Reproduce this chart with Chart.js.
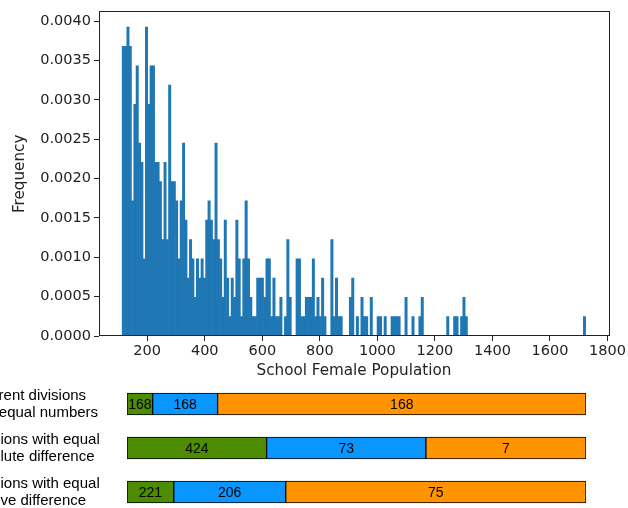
<!DOCTYPE html>
<html>
<head>
<meta charset="utf-8">
<script src="https://cdn.jsdelivr.net/npm/chart.js@4.4.1/dist/chart.umd.min.js"></script>
<style>
  html, body { margin: 0; padding: 0; background: #fff; }
  #wrap { position: relative; width: 628px; height: 508px; overflow: hidden; background: #fff; }
  #hist { position: absolute; left: 0; top: 0; }
  #divs { position: absolute; left: -32px; top: 382px; }
</style>
</head>
<body>
<div id="wrap">
  <canvas id="hist" width="628" height="382"></canvas>
  <canvas id="divs" width="660" height="132"></canvas>
</div>
<script>
// ---- Histogram of school female population (200 equal-width bins) ----
const POP_MIN = 113;
const POP_MAX = 1724;
const BIN_COUNTS = [
  15, 15, 16, 15, 7, 12, 14, 10, 9, 4,
  16, 12, 14, 14, 9, 9, 8, 5, 9, 5,
  13, 8, 8, 7, 4, 7, 10, 6, 3, 5,
  4, 2, 4, 3, 4, 3, 6, 7, 6, 5,
  10, 5, 4, 2, 6, 3, 1, 3, 2, 6,
  4, 1, 4, 7, 4, 2, 1, 1, 3, 3,
  3, 2, 4, 4, 1, 3, 1, 1, 2, 0,
  1, 5, 2, 0, 0, 4, 4, 1, 1, 2,
  2, 2, 4, 1, 2, 1, 3, 1, 0, 0,
  5, 1, 3, 1, 1, 0, 0, 0, 2, 3,
  0, 1, 0, 2, 1, 1, 0, 2, 0, 0,
  1, 1, 0, 1, 0, 0, 1, 1, 1, 1,
  0, 0, 2, 0, 0, 1, 0, 0, 1, 2,
  0, 0, 0, 0, 0, 0, 0, 0, 0, 0,
  1, 0, 0, 1, 1, 0, 1, 2, 1, 0,
  0, 0, 0, 0, 0, 0, 0, 0, 0, 0,
  0, 0, 0, 0, 0, 0, 0, 0, 0, 0,
  0, 0, 0, 0, 0, 0, 0, 0, 0, 0,
  0, 0, 0, 0, 0, 0, 0, 0, 0, 0,
  0, 0, 0, 0, 0, 0, 0, 0, 0, 1
];
const X_TICKS = [200, 400, 600, 800, 1000, 1200, 1400, 1600, 1800];
const Y_TICKS = [0, 0.0005, 0.001, 0.0015, 0.002, 0.0025, 0.003, 0.0035, 0.004];

// ---- Three ways of splitting the schools into groups ----
const ROW_LABELS = [
  ['Different divisions', 'with equal numbers'],
  ['Divisions with equal', 'absolute difference'],
  ['Divisions with equal', 'relative difference']
];
const LOW_CUT = [203, 603, 277];     // upper edge of the first group
const HIGH_CUT = [431, 1162, 670];   // upper edge of the second group
const LOW_COUNTS = [168, 424, 221];
const MID_COUNTS = [168, 73, 206];
const HIGH_COUNTS = [168, 7, 75];

// density normalisation, as a normed histogram does it
const nBins = BIN_COUNTS.length;
const binWidth = (POP_MAX - POP_MIN) / nBins;
const total = BIN_COUNTS.reduce((a, b) => a + b, 0);
const histPoints = BIN_COUNTS.map((c, i) => ({
  x: POP_MIN + (i + 0.5) * binWidth,
  y: c / (total * binWidth)
}));
const yTop = Math.max(...histPoints.map(p => p.y)) * 1.05;
const xPad = (POP_MAX - POP_MIN) * 0.05;

const TICK_FONT = { family: 'DejaVu Sans', size: 14.5 };
const TITLE_FONT = { family: 'DejaVu Sans', size: 15.2 };
const INK = '#222';

const framePlugin = {
  id: 'frame',
  afterDraw(chart) {
    const { ctx, chartArea: a } = chart;
    ctx.save();
    ctx.strokeStyle = INK;
    ctx.lineWidth = 1;
    ctx.strokeRect(Math.floor(a.left) + 0.5, Math.floor(a.top) + 0.5,
                   Math.round(a.right - a.left), Math.round(a.bottom - a.top));
    ctx.restore();
  }
};

new Chart(document.getElementById('hist'), {
  type: 'bar',
  data: {
    datasets: [{
      data: histPoints,
      backgroundColor: '#1f77b4',
      borderWidth: 0,
      barPercentage: 1,
      categoryPercentage: 1
    }]
  },
  options: {
    responsive: false,
    animation: false,
    devicePixelRatio: 1,
    layout: { padding: { left: 0, right: 19, top: 11, bottom: 0 } },
    plugins: { legend: { display: false }, tooltip: { enabled: false } },
    scales: {
      x: {
        type: 'linear',
        offset: false,
        min: POP_MIN - xPad,
        max: POP_MAX + xPad,
        afterBuildTicks: s => { s.ticks = X_TICKS.map(v => ({ value: v })); },
        afterFit: s => { s.height = 46; },
        ticks: { callback: v => String(v), font: TICK_FONT, color: INK, padding: 2, maxRotation: 0, autoSkip: false },
        grid: { display: true, offset: false, drawOnChartArea: false, drawTicks: true, tickLength: 5, tickColor: INK, tickWidth: 1 },
        border: { display: false },
        title: { display: true, text: 'School Female Population', font: TITLE_FONT, color: INK, padding: { top: 0, bottom: 2 } }
      },
      y: {
        type: 'linear',
        min: 0,
        max: yTop,
        afterBuildTicks: s => { s.ticks = Y_TICKS.map(v => ({ value: v })); },
        afterFit: s => { s.width = 99; },
        ticks: { callback: v => v.toFixed(4), font: TICK_FONT, color: INK, padding: 3, autoSkip: false },
        grid: { display: true, drawOnChartArea: false, drawTicks: true, tickLength: 5, tickColor: INK, tickWidth: 1 },
        border: { display: false },
        title: { display: true, text: 'Frequency', font: TITLE_FONT, color: INK, padding: { top: 11, bottom: 0 } }
      }
    }
  },
  plugins: [framePlugin]
});

// ---- Group bars ----
const SEG_FONT = { family: 'Liberation Sans', size: 14 };
const ROW_FONT = { family: 'Liberation Sans', size: 15, lineHeight: 1.15 };
const segCounts = [LOW_COUNTS, MID_COUNTS, HIGH_COUNTS];

const countLabels = {
  id: 'countLabels',
  afterDatasetsDraw(chart) {
    const { ctx } = chart;
    ctx.save();
    ctx.font = `${SEG_FONT.size}px "${SEG_FONT.family}"`;
    ctx.fillStyle = '#000';
    ctx.textAlign = 'center';
    ctx.textBaseline = 'middle';
    chart.data.datasets.forEach((ds, di) => {
      chart.getDatasetMeta(di).data.forEach((el, i) => {
        const { x, base, y } = el.getProps(['x', 'base', 'y'], true);
        ctx.fillText(String(segCounts[di][i]), (x + base) / 2, y + 1);
      });
    });
    ctx.restore();
  }
};

const segStyle = { borderColor: '#000', borderWidth: 1, borderSkipped: false, grouped: false, barThickness: 22 };

new Chart(document.getElementById('divs'), {
  type: 'bar',
  data: {
    labels: ROW_LABELS,
    datasets: [
      Object.assign({ data: ROW_LABELS.map((_, i) => [POP_MIN, LOW_CUT[i]]), backgroundColor: '#4d8b00' }, segStyle),
      Object.assign({ data: ROW_LABELS.map((_, i) => [LOW_CUT[i], HIGH_CUT[i]]), backgroundColor: '#0a96ff' }, segStyle),
      Object.assign({ data: ROW_LABELS.map((_, i) => [HIGH_CUT[i], POP_MAX]), backgroundColor: '#ff9300' }, segStyle)
    ]
  },
  options: {
    indexAxis: 'y',
    responsive: false,
    animation: false,
    devicePixelRatio: 1,
    layout: { padding: { left: 0, right: 42, top: 0, bottom: 0 } },
    plugins: { legend: { display: false }, tooltip: { enabled: false } },
    scales: {
      x: { type: 'linear', display: false, min: POP_MIN, max: POP_MAX },
      y: {
        type: 'category',
        afterFit: s => { s.width = 159; s.paddingTop = 0; s.paddingBottom = 0; },
        grid: { display: false },
        border: { display: false },
        ticks: { crossAlign: 'far', color: '#000', font: ROW_FONT, padding: 0 }
      }
    }
  },
  plugins: [countLabels]
});
</script>
</body>
</html>
